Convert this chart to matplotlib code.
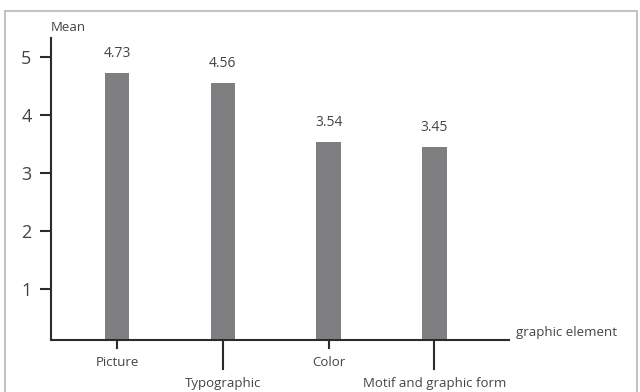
import matplotlib
matplotlib.use("Agg")
import matplotlib.pyplot as plt
from matplotlib.patches import Rectangle

categories = ["Picture", "Typographic", "Color", "Motif and graphic form"]
means = [4.73, 4.56, 3.54, 3.45]
yticks = [1, 2, 3, 4, 5]

plt.rcParams['font.family'] = ['Open Sans', 'DejaVu Sans']
txt = '#444444'
axis_col = '#2b2b2b'

fig = plt.figure(figsize=(6.4, 3.92), dpi=100)
# thin grey frame around the whole chart
fig.patches.append(Rectangle((5 / 640, -0.05), 632 / 640, 1 - 11 / 392 + 0.05,
                             transform=fig.transFigure, fill=False,
                             edgecolor='#c4c4c4', linewidth=1.5))

ax = fig.add_axes([51 / 640, 1 - 340 / 392, 458 / 640, 302 / 392])
x = range(len(categories))
ax.bar(x, means, width=0.23, color='#7f7f82', zorder=2)
for i, v in zip(x, means):
    ax.text(i, v + 0.2, f"{v:.2f}", ha='center', va='bottom', fontsize=10, color=txt)

ax.set_xlim(-0.624, 3.705)
ax.set_ylim(0.12, 5.33)
for s in ['top', 'right']:
    ax.spines[s].set_visible(False)
for s in ['left', 'bottom']:
    ax.spines[s].set_color(axis_col)
    ax.spines[s].set_linewidth(1.5)

ax.set_yticks(yticks)
ax.set_yticklabels([str(t) for t in yticks], fontsize=13, color=txt)
ax.tick_params(axis='y', length=8, width=1.5, color=axis_col, pad=6)

# alternate short / long ticks so the long labels don't collide
ax.set_xticks([])
xtrans = ax.get_xaxis_transform()
for i, name in enumerate(categories):
    tick_len = 29 if i % 2 == 1 else 8
    ax.add_line(plt.Line2D([i, i], [0, -tick_len / 302], transform=xtrans,
                           color=axis_col, linewidth=1.5, clip_on=False))
    ax.text(i, -(tick_len + 15) / 302, name, transform=xtrans,
            ha='center', va='center', fontsize=9.5, color=txt)

ax.text(0, 1.012, "Mean", transform=ax.transAxes, ha='left', va='bottom',
        fontsize=9.5, color=txt)
ax.text(1.015, 0.025, "graphic element", transform=ax.transAxes, ha='left', va='center',
        fontsize=9.5, color=txt)

fig.savefig("out.png", dpi=100)
